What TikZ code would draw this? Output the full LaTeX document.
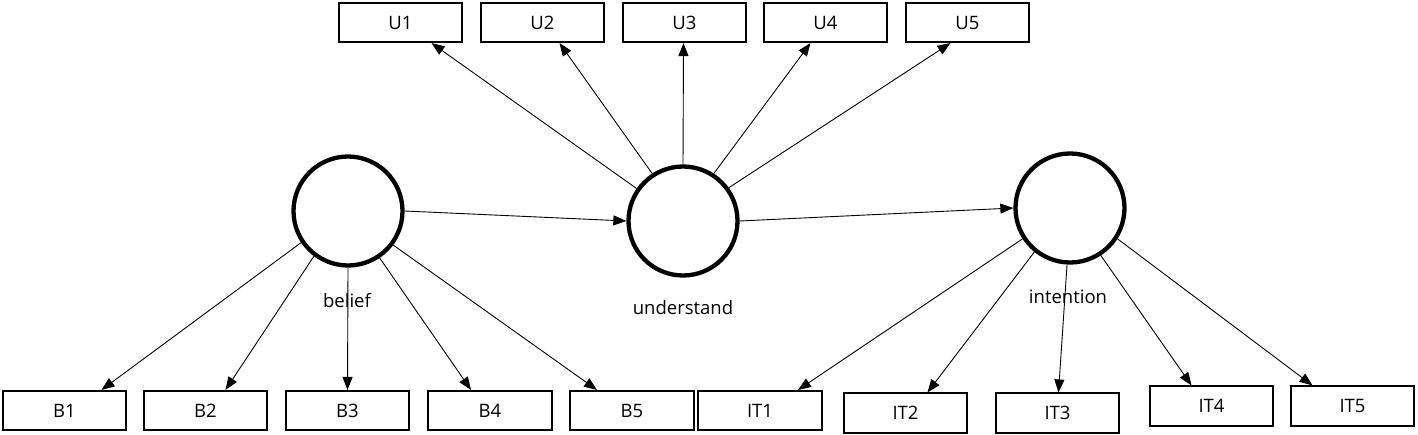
\documentclass[tikz,border=0pt]{standalone}
\usepackage{fontspec}
\setmainfont{Open Sans}
\usetikzlibrary{arrows.meta}
\begin{document}
\begin{tikzpicture}[x=1pt,y=-1pt,
  ind/.style={draw,line width=1.6pt,minimum width=123.5pt,minimum height=39.5pt,inner sep=0pt,font=\fontsize{18.5}{22}\selectfont},
  lat/.style={draw,circle,line width=4.3pt,minimum size=109pt,inner sep=0pt},
  lab/.style={font=\fontsize{18.5}{22}\selectfont,inner sep=0pt},
  conn/.style={line width=0.9pt,-{Triangle[length=13pt,width=10pt]}}]
\useasboundingbox (0,0) rectangle (1418,435);
% latent variables
\node[lat] (bel) at (348,211) {};
\node[lat] (und) at (683,221) {};
\node[lat] (int) at (1070,208) {};
\node[lab] (belL) at (347,301) {belief};
\node[lab] (undL) at (683,308) {understand};
\node[lab] (intL) at (1068,297) {intention};
% top indicators
\node[ind] (u1) at (400.5,22.5) {U1};
\node[ind] (u2) at (542.5,22.5) {U2};
\node[ind] (u3) at (684.5,22.5) {U3};
\node[ind] (u4) at (825.5,22.5) {U4};
\node[ind] (u5) at (967.5,22.5) {U5};
% bottom indicators
\node[ind] (b1) at (64.5,410.5) {B1};
\node[ind] (b2) at (205.5,410.5) {B2};
\node[ind] (b3) at (347.5,410.5) {B3};
\node[ind] (b4) at (490,410.5) {B4};
\node[ind] (b5) at (632,410.5) {B5};
\node[ind] (it1) at (760,410.5) {IT1};
\node[ind] (it2) at (905.5,413) {IT2};
\node[ind] (it3) at (1057.5,413) {IT3};
\node[ind] (it4) at (1211.5,406) {IT4};
\node[ind] (it5) at (1352.5,406) {IT5};
% structural paths
\draw[conn] (bel.east) -- (und.west);
\draw[conn] (und.east) -- (int.west);
% understand -> U
\draw[conn] (und.145) -- ([xshift=31pt]u1.south);
\draw[conn] (und.123) -- ([xshift=17pt]u2.south);
\draw[conn] (und.90) -- ([xshift=-1pt]u3.south);
\draw[conn] (und.57) -- ([xshift=-15pt]u4.south);
\draw[conn] (und.36) -- ([xshift=-17pt]u5.south);
% belief -> B
\draw[conn] (bel.214) -- ([xshift=37pt]b1.north);
\draw[conn] (bel.233) -- ([xshift=20pt]b2.north);
\draw[conn] (bel.270) -- ([xshift=0pt]b3.north);
\draw[conn] (bel.304) -- ([xshift=-19pt]b4.north);
\draw[conn] (bel.323) -- ([xshift=-35pt]b5.north);
% intention -> IT
\draw[conn] (int.213) -- ([xshift=38pt]it1.north);
\draw[conn] (int.231) -- ([xshift=22pt]it2.north);
\draw[conn] (int.267) -- ([xshift=1pt]it3.north);
\draw[conn] (int.303) -- ([xshift=-20pt]it4.north);
\draw[conn] (int.327) -- ([xshift=-40pt]it5.north);
\end{tikzpicture}
\end{document}
